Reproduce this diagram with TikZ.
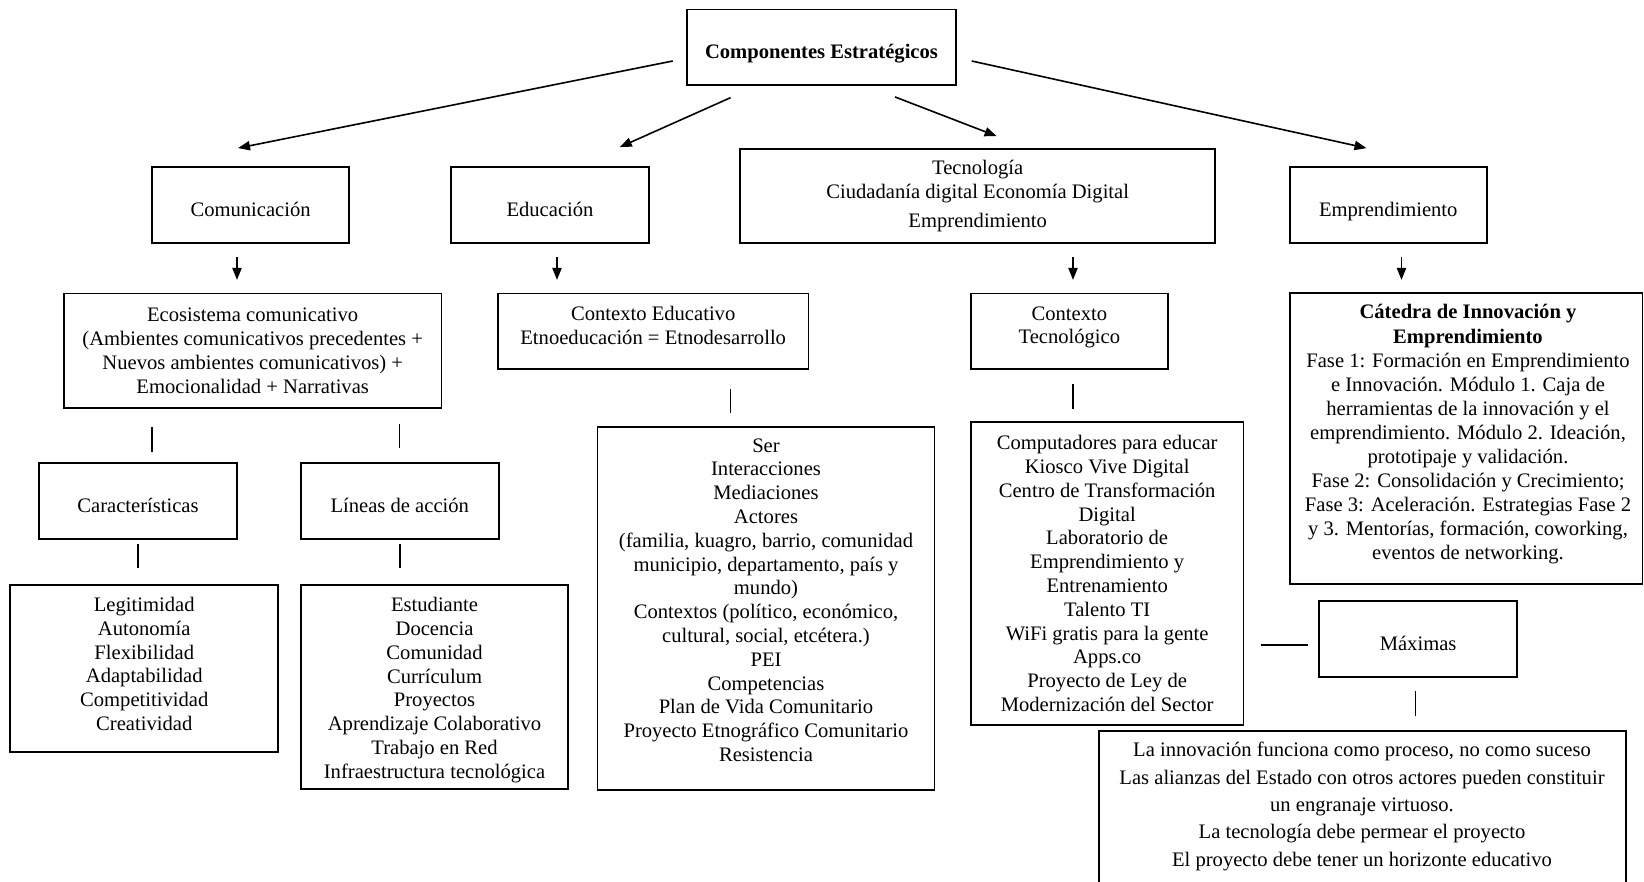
\documentclass[tikz,border=0pt]{standalone}
\usepackage{fontspec}
\setmainfont{Liberation Serif}
\usetikzlibrary{calc,arrows.meta}
\begin{document}
\begin{tikzpicture}[x=0.5pt,y=-0.5pt,
  box/.style={draw,line width=0.9pt,inner sep=0pt,align=center,font=\fontsize{10.3}{11.9}\selectfont},
  oneline/.style={text height=13.2pt,text depth=1.4pt},
  txt/.style={inner sep=0pt,align=center,font=\fontsize{10.3}{11.9}\selectfont},
  arr/.style={line width=0.8pt,-{Triangle[length=6pt,width=4.6pt]}},
  ln/.style={line width=0.8pt}]
\fill[white] (0,0) rectangle (1644,882);
\clip (0,0) rectangle (1644,882);
\useasboundingbox (0,0) rectangle (1644,882);

% top level
\node[box,oneline,minimum width=134.7pt,minimum height=37.75pt] (comp) at (821.5,47.2) {\textbf{Componentes Estratégicos}};

% second level
\node[box,oneline,minimum width=98.6pt,minimum height=38.3pt] (com) at (250.6,205) {Comunicación};
\node[box,oneline,minimum width=99pt,minimum height=38.3pt] (edu) at (550,205) {Educación};
\node[box,minimum width=237.5pt,minimum height=47.2pt] (tec) at (977.7,196.1)
  {Tecnología\\Ciudadanía digital Economía Digital\\[2.5pt]Emprendimiento};
\node[box,oneline,minimum width=98.5pt,minimum height=38.3pt] (emp) at (1388.25,205) {Emprendimiento};

% third level
\node[box,minimum width=188.7pt,minimum height=57.15pt] (eco) at (252.7,350.75)
  {Ecosistema comunicativo\\(Ambientes comunicativos precedentes +\\Nuevos ambientes comunicativos) +\\Emocionalidad + Narrativas};
\node[box,minimum width=155.2pt,minimum height=37.7pt] (ced) at (653.2,331.3) {};
\node[txt] (cedt) at (653.2,325.5) {Contexto Educativo\\Etnoeducación = Etnodesarrollo};
\node[box,minimum width=98.55pt,minimum height=37.7pt] (ctec) at (1069.35,331.3) {};
\node[txt] (ctect) at (1069.35,327.5) {Contexto\\Tecnológico};
\node[box,minimum width=176.4pt,minimum height=145.5pt] (cat) at (1466.1,438.5) {};
\node[txt,font=\fontsize{10.3}{12.05}\selectfont] (catt) at (1468,434.5) {\textbf{Cátedra de Innovación y}\\\textbf{Emprendimiento}\\
  Fase 1: Formación en Emprendimiento\\e Innovación. Módulo 1. Caja de\\
  herramientas de la innovación y el\\emprendimiento. Módulo 2. Ideación,\\
  prototipaje y validación.\\Fase 2: Consolidación y Crecimiento;\\
  Fase 3: Aceleración. Estrategias Fase 2\\y 3. Mentorías, formación, coworking,\\
  eventos de networking.};

% fourth level
\node[box,oneline,minimum width=99pt,minimum height=38.15pt] (car) at (138,500.85) {Características};
\node[box,oneline,minimum width=99pt,minimum height=38.15pt] (lin) at (399.75,500.85) {Líneas de acción};
\node[box,minimum width=133.95pt,minimum height=83.35pt] (leg) at (144.25,668.35) {};
\node[txt] (legt) at (144.25,664) {Legitimidad\\Autonomía\\Flexibilidad\\Adaptabilidad\\Competitividad\\Creatividad};
\node[box,minimum width=133.75pt,minimum height=102pt] (est) at (434.55,687) {};
\node[txt] (estt) at (434.55,690)
  {Estudiante\\Docencia\\Comunidad\\Currículum\\Proyectos\\Aprendizaje Colaborativo\\Trabajo en Red\\Infraestructura tecnológica};
\node[box,minimum width=168.5pt,minimum height=181.65pt] (ser) at (766,608.35) {};
\node[txt] (sert) at (766,600) {Ser\\Interacciones\\Mediaciones\\Actores\\
  (familia, kuagro, barrio, comunidad\\municipio, departamento, país y\\mundo)\\
  Contextos (político, económico,\\cultural, social, etcétera.)\\PEI\\Competencias\\
  Plan de Vida Comunitario\\Proyecto Etnográfico Comunitario\\Resistencia};
\node[box,minimum width=136.35pt,minimum height=151.5pt] (tic) at (1107.15,573.5)
  {Computadores para educar\\Kiosco Vive Digital\\Centro de Transformación\\Digital\\
   Laboratorio de\\Emprendimiento y\\Entrenamiento\\Talento TI\\WiFi gratis para la gente\\
   Apps.co\\Proyecto de Ley de\\Modernización del Sector};
\node[box,oneline,minimum width=98.9pt,minimum height=38.15pt] (max) at (1418.1,639.15) {Máximas};
\node[box,minimum width=263.5pt,minimum height=94.5pt] (bot) at (1362.2,825.5) {};
\node[txt,font=\fontsize{10.3}{13.65}\selectfont] (bott) at (1362,806.5)
  {La innovación funciona como proceso, no como suceso\\
   Las alianzas del Estado con otros actores pueden constituir\\
   un engranaje virtuoso.\\La tecnología debe permear el proyecto\\
   El proyecto debe tener un horizonte educativo};

% arrows from the top box
\draw[arr] ($(comp.west)+(-13.2,13.8)$) -- ($(com.north)+(-12.6,-17.7)$);
\draw[arr] ($(comp.south)+(-90.9,11.8)$) -- ($(edu.north)+(69.8,-18.7)$);
\draw[arr] ($(comp.south)+(73.5,11.1)$) -- ($(tec.north)+(18.9,-11.9)$);
\draw[arr] ($(comp.east)+(14.6,13.8)$) -- ($(emp.north)+(-21.75,-17.7)$);

% short downward arrows
\draw[arr] ($(com.south)+(-13.6,12.7)$) -- ++(0,23);
\draw[arr] ($(edu.south)+(7,12.7)$) -- ++(0,23);
\draw[arr] ($(tec.south)+(95.3,12.7)$) -- ++(0,23);
\draw[arr] ($(emp.south)+(13.25,12.7)$) -- ++(0,23);

% plain links
\draw[ln] ($(eco.south)+(-100.7,18)$) -- ++(0,25);
\draw[ln] ($(eco.south)+(146.8,15)$) -- ++(0,24);
\draw[ln] ($(ced.south)+(77.4,19)$) -- ++(0,24);
\draw[ln] ($(ctec.south)+(3.65,14)$) -- ++(0,25);
\draw[ln] ($(car.south)+(0,4)$) -- ++(0,24);
\draw[ln] ($(lin.south)+(0,4)$) -- ++(0,24);
\draw[ln] ($(max.west)+(-57,6)$) -- ($(max.west)+(-10,6)$);
\draw[ln] ($(max.south)+(-2.8,12.7)$) -- ++(0,25);
\end{tikzpicture}
\end{document}
